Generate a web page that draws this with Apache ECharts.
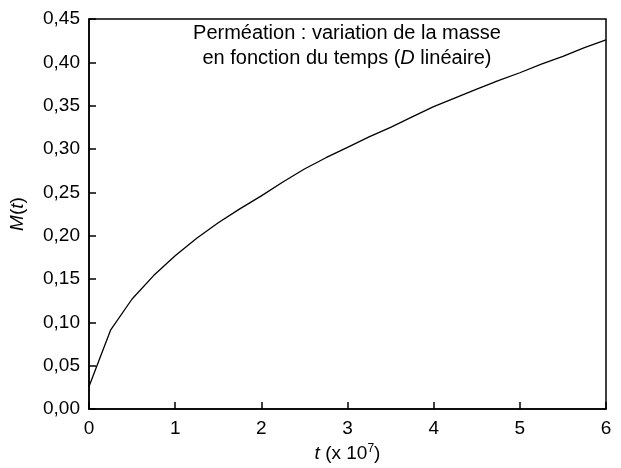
<!DOCTYPE html>
<html>
<head>
<meta charset="utf-8">
<script src="https://cdn.jsdelivr.net/npm/echarts@6/dist/echarts.min.js"></script>
<style>html,body{margin:0;padding:0;background:#fff;}#c{width:621px;height:468px;}</style>
</head>
<body>
<div id="c"></div>
<script>
var tValues = [0, 0.25, 0.5, 0.75, 1, 1.25, 1.5, 1.75, 2, 2.25, 2.5, 2.75, 3, 3.25, 3.5, 3.75, 4, 4.25, 4.5, 4.75, 5, 5.25, 5.5, 5.75, 6];
var mValues = [0.026, 0.091, 0.127, 0.154, 0.177, 0.197, 0.215, 0.231, 0.246, 0.262, 0.277, 0.290, 0.302, 0.314, 0.325, 0.337, 0.349, 0.359, 0.369, 0.379, 0.388, 0.398, 0.407, 0.417, 0.426];
var titleLines = ['Perméation : variation de la masse', 'en fonction du temps ('];

var FONT = 'Liberation Sans, Arial, sans-serif';
var chart = echarts.init(document.getElementById('c'), null, {renderer: 'canvas'});
var data = tValues.map(function (t, i) { return [t, mValues[i]]; });

chart.setOption({
  animation: false,
  backgroundColor: '#fff',
  grid: {left: 88, top: 19, right: 15, bottom: 58, show: true, borderColor: '#000', borderWidth: 1.5, backgroundColor: 'transparent'},
  xAxis: {
    type: 'value', min: 0, max: 6, interval: 1,
    axisLine: {show: true, lineStyle: {color: '#000', width: 1.5}},
    axisTick: {show: true, inside: true, length: 7, lineStyle: {color: '#000', width: 1.5}},
    splitLine: {show: false},
    axisLabel: {color: '#000', fontSize: 19, fontFamily: FONT, margin: 10},
    name: '{i|t} {n|(x 10}{s|7}{n|)}',
    nameLocation: 'middle', nameGap: 32,
    nameTextStyle: {
      color: '#000', fontSize: 19, fontFamily: FONT,
      rich: {
        i: {fontStyle: 'italic', fontSize: 19, fontFamily: FONT, color: '#000'},
        n: {fontSize: 19, fontFamily: FONT, color: '#000'},
        s: {fontSize: 12, fontFamily: FONT, color: '#000', verticalAlign: 'top', padding: [0, 0, 9, 0]}
      }
    }
  },
  yAxis: {
    type: 'value', min: 0, max: 0.45, interval: 0.05,
    axisLine: {show: true, lineStyle: {color: '#000', width: 1.5}},
    axisTick: {show: true, inside: true, length: 7, lineStyle: {color: '#000', width: 1.5}},
    splitLine: {show: false},
    axisLabel: {color: '#000', fontSize: 19, fontFamily: FONT, margin: 9,
      formatter: function (v) { return v.toFixed(2).replace('.', ','); }},
    name: '{i|M}{n|(}{i|t}{n|)}',
    nameLocation: 'middle', nameGap: 62, nameRotate: 90,
    nameTextStyle: {
      color: '#000', fontSize: 19, fontFamily: FONT,
      rich: {
        i: {fontStyle: 'italic', fontSize: 19, fontFamily: FONT, color: '#000'},
        n: {fontSize: 19, fontFamily: FONT, color: '#000'}
      }
    }
  },
  series: [{
    type: 'line', data: data, symbol: 'none', smooth: false,
    lineStyle: {color: '#000', width: 1.3}
  }],
  graphic: [{
    type: 'text', x: 347, y: 21,
    style: {
      text: '{n|' + titleLines[0] + '}\n{n|' + titleLines[1] + '}{i|D}{n| linéaire)}',
      align: 'center',
      fill: '#000',
      font: '20px ' + FONT,
      lineHeight: 25,
      rich: {
        n: {fontSize: 20, fontFamily: FONT, fill: '#000', lineHeight: 25},
        i: {fontSize: 20, fontFamily: FONT, fontStyle: 'italic', fill: '#000', lineHeight: 25}
      }
    }
  }]
});
</script>
</body>
</html>
